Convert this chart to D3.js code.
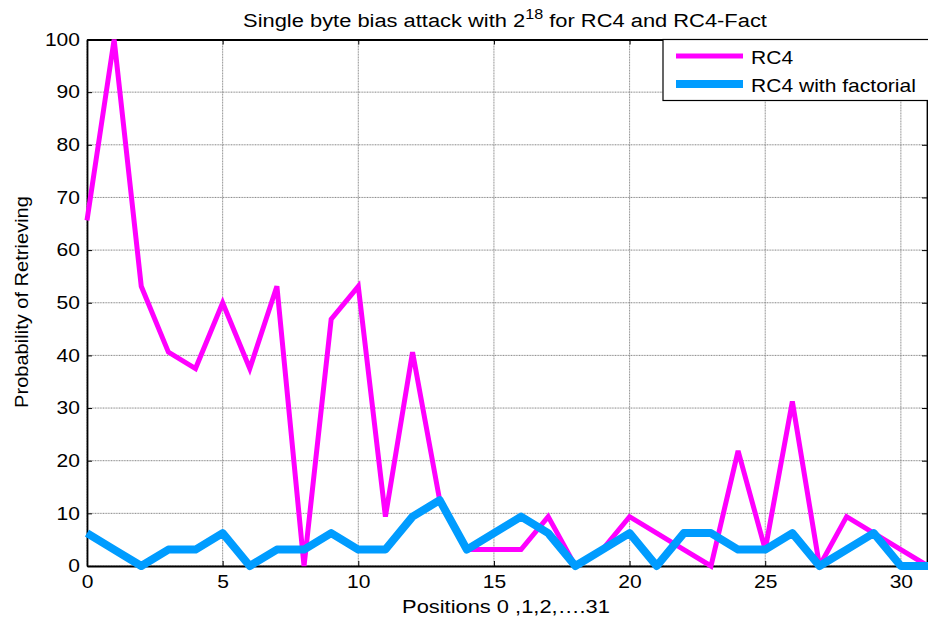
<!DOCTYPE html>
<html><head><meta charset="utf-8">
<script src="https://cdn.jsdelivr.net/npm/d3@7"></script>
<style>body{margin:0;background:#fff;} svg{display:block;font-family:"Liberation Sans",Arial,sans-serif;}</style>
</head><body><svg id="c" width="928" height="621"></svg>
<script>
const positions = d3.range(0, 32);
const rc4 = [65.625,100,53.125,40.625,37.5,50,37.5,53.125,0,46.875,53.125,9.375,40.625,12.5,3.125,3.125,3.125,9.375,0,3.125,9.375,6.25,3.125,0,21.875,3.125,31.25,0,9.375,6.25,3.125,0];
const rc4Fact = [6.25,3.125,0,3.125,3.125,6.25,0,3.125,3.125,6.25,3.125,3.125,9.375,12.5,3.125,6.25,9.375,6.25,0,3.125,6.25,0,6.25,6.25,3.125,3.125,6.25,0,3.125,6.25,0,0];
const xTicks = [0,5,10,15,20,25,30];
const yTicks = [0,10,20,30,40,50,60,70,80,90,100];
const seriesNames = ["RC4","RC4 with factorial"];

const svg = d3.select("#c");
const L=87, R=928, T=39.5, B=566;
const x = d3.scaleLinear().domain([0,31]).range([L,R]);
const y = d3.scaleLinear().domain([0,100]).range([B,T]);

// horizontally stretch a text around its anchor x
function stretch(node, ax, s){
  d3.select(node).attr("transform", `translate(${ax},0) scale(${s},1) translate(${-ax},0)`);
}

// grid
const g = svg.append("g");
g.selectAll(".gx").data(xTicks).join("line")
  .attr("x1",d=>x(d)).attr("x2",d=>x(d)).attr("y1",T).attr("y2",B)
  .attr("stroke","#7a7a7a").attr("stroke-width",0.9).attr("stroke-dasharray","1,0.6");
g.selectAll(".gy").data(yTicks).join("line")
  .attr("x1",L).attr("x2",R).attr("y1",d=>y(d)).attr("y2",d=>y(d))
  .attr("stroke","#7a7a7a").attr("stroke-width",0.9).attr("stroke-dasharray","1,0.6");

// axes
const xa = svg.append("g").attr("transform",`translate(0,${B})`)
  .call(d3.axisBottom(x).tickValues(xTicks).tickSizeInner(-5).tickSizeOuter(0).tickPadding(9));
const ya = svg.append("g").attr("transform",`translate(${L},0)`)
  .call(d3.axisLeft(y).tickValues(yTicks).tickSizeInner(-5).tickSizeOuter(0).tickPadding(7));
const xt = svg.append("g").attr("transform",`translate(0,${T})`)
  .call(d3.axisTop(x).tickValues(xTicks).tickSizeInner(-5).tickSizeOuter(0).tickFormat(""));
const yr = svg.append("g").attr("transform",`translate(${R-1},0)`)
  .call(d3.axisRight(y).tickValues(yTicks).tickSizeInner(-5).tickSizeOuter(0).tickFormat(""));
[xa,ya,xt,yr].forEach(a=>{
  a.selectAll("path").attr("stroke","#000").attr("stroke-width",1.8);
  a.selectAll("line").attr("stroke","#000").attr("stroke-width",1);
  a.selectAll("text").attr("font-size",18).attr("fill","#000").attr("font-family","Liberation Sans, Arial, sans-serif");
});
xa.selectAll("text").each(function(){ stretch(this, 0, 1.17); });
ya.selectAll("text").each(function(){ stretch(this, -7, 1.17); });

// lines
const line = d3.line().x((d,i)=>x(positions[i])).y(d=>y(d));
svg.append("path").datum(rc4).attr("d",line).attr("fill","none")
  .attr("stroke","#ff00ff").attr("stroke-width",5).attr("stroke-linejoin","miter").attr("stroke-miterlimit",3);
svg.append("path").datum(rc4Fact).attr("d",line).attr("fill","none")
  .attr("stroke","#009cff").attr("stroke-width",8).attr("stroke-linejoin","round");

// legend
const lg = svg.append("g");
lg.append("rect").attr("x",663).attr("y",T).attr("width",280).attr("height",61)
  .attr("fill","#fff").attr("stroke","#000").attr("stroke-width",1.2);
const colors=["#ff00ff","#009cff"], widths=[5,8], ly=[56,84];
seriesNames.forEach((n,i)=>{
  lg.append("line").attr("x1",676).attr("x2",743).attr("y1",ly[i]).attr("y2",ly[i])
    .attr("stroke",colors[i]).attr("stroke-width",widths[i]);
  const tx = lg.append("text").attr("x",751).attr("y",ly[i]+8).attr("font-size",18).text(n);
  stretch(tx.node(), 751, 1.17);
});

// title
const t = svg.append("text").attr("x",505).attr("y",27).attr("text-anchor","middle").attr("font-size",19);
t.append("tspan").text("Single byte bias attack with 2");
t.append("tspan").attr("font-size",14).attr("dy",-8).text("18");
t.append("tspan").attr("dy",8).text(" for RC4 and RC4-Fact");
stretch(t.node(), 505, 525 / t.node().getBBox().width);

const xl = svg.append("text").attr("x",506).attr("y",613).attr("text-anchor","middle").attr("font-size",18)
  .text("Positions 0 ,1,2,\u2026.31");
stretch(xl.node(), 506, 208 / xl.node().getBBox().width);

const yl = svg.append("text").attr("x",0).attr("y",0).attr("text-anchor","middle").attr("font-size",19)
  .text("Probability of Retrieving");
const yw = yl.node().getBBox().width;
yl.attr("transform",`translate(28,302) rotate(-90) scale(${212/yw},1)`);
</script></body></html>
